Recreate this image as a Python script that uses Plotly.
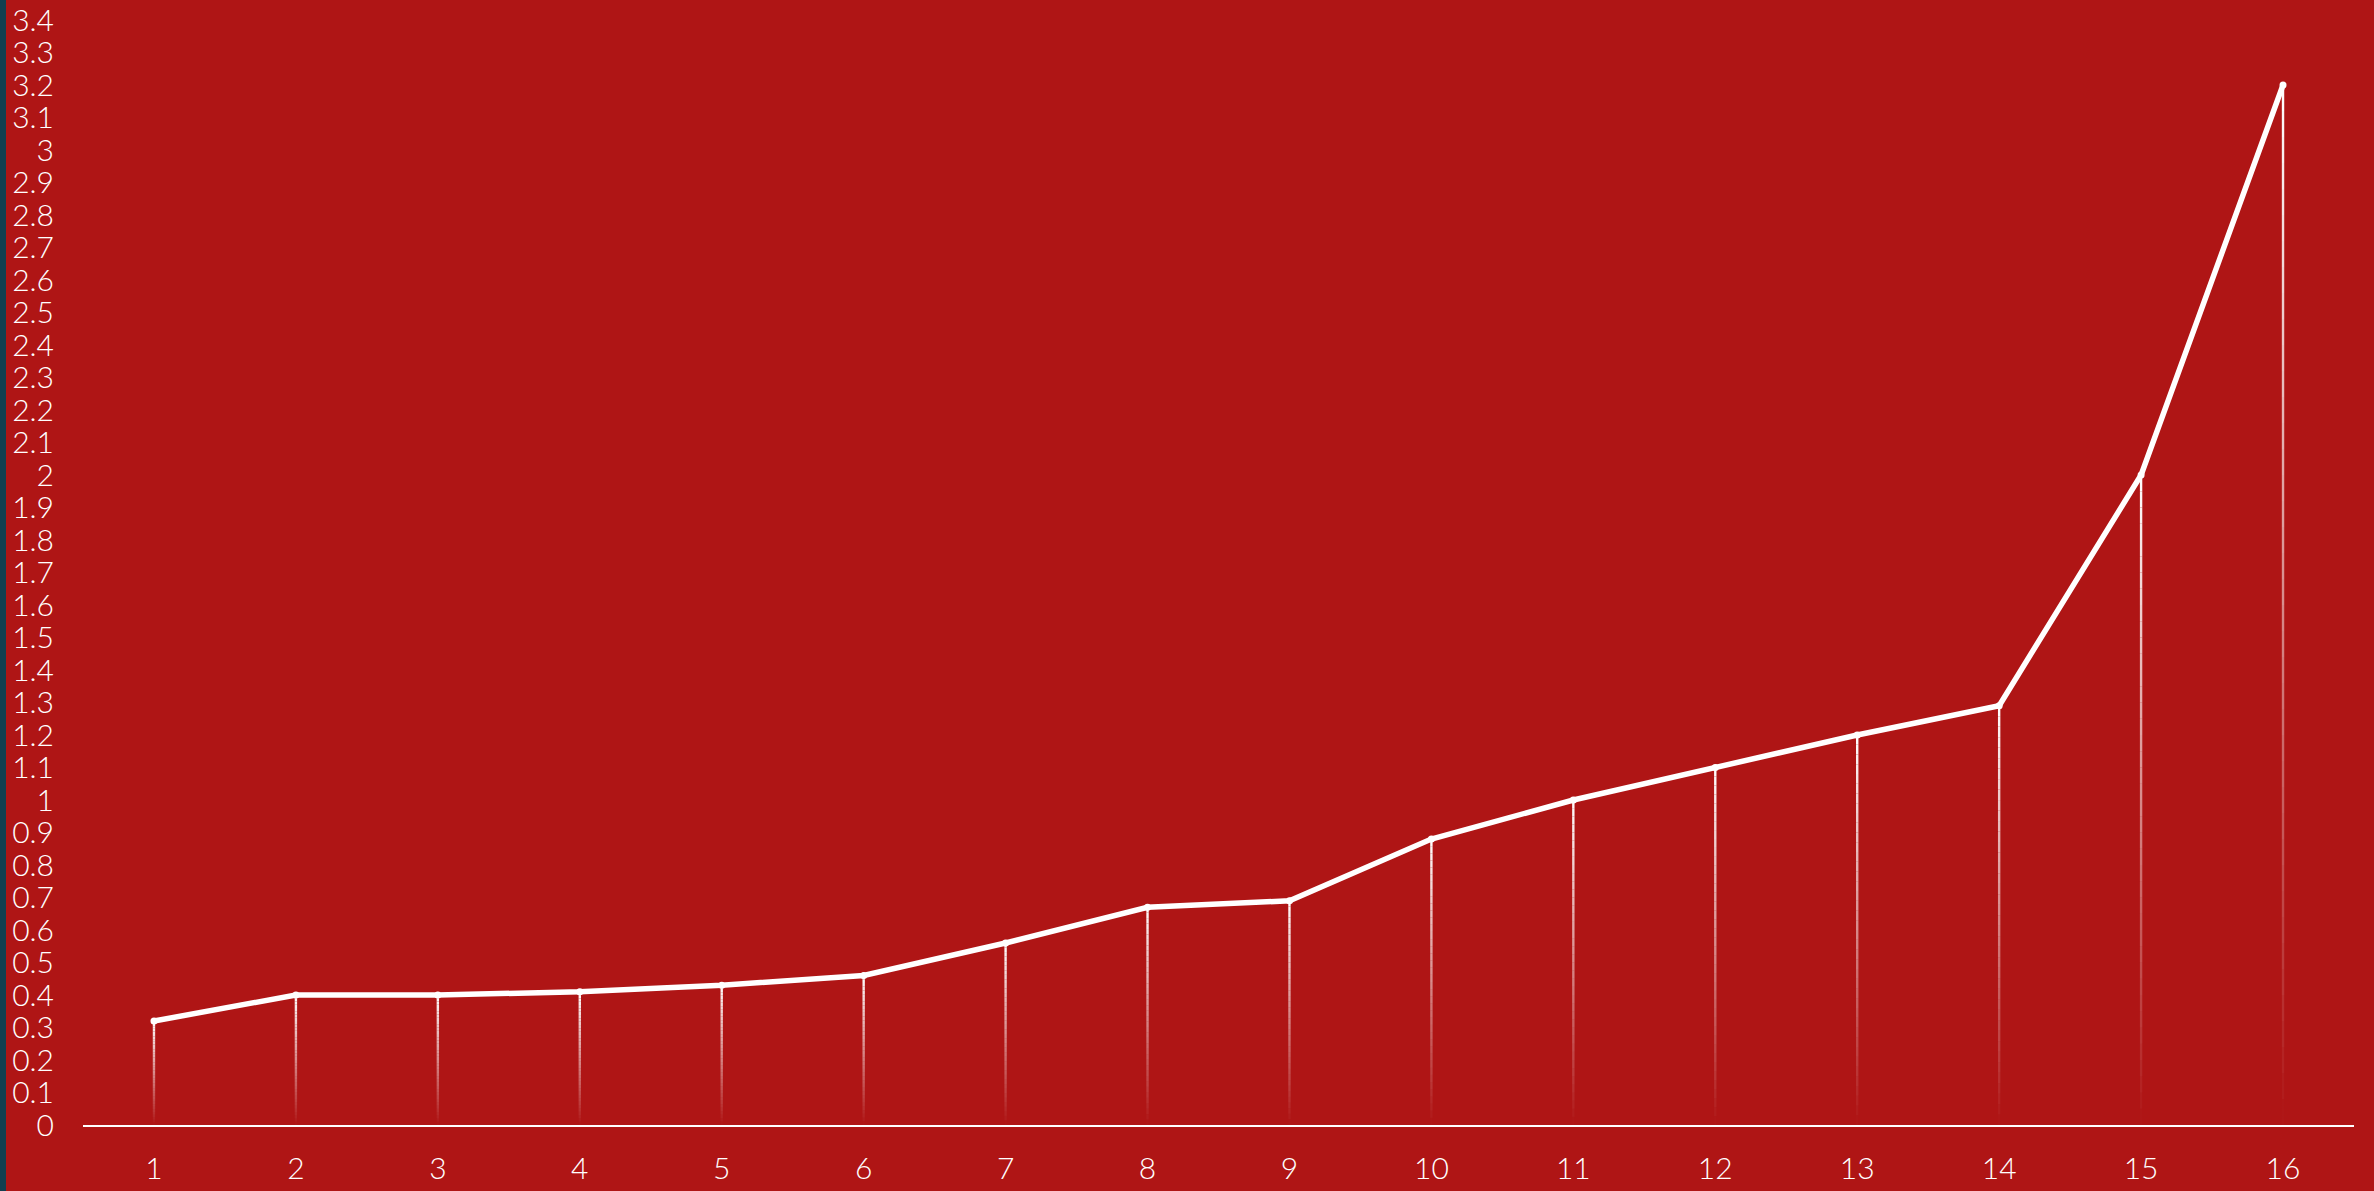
import plotly.graph_objects as go

categories = [str(i) for i in range(1, 17)]
x_pos = list(range(1, 17))
values = [0.32, 0.40, 0.40, 0.41, 0.43, 0.46, 0.56, 0.67, 0.69, 0.88, 1.00, 1.10, 1.20, 1.29, 2.00, 3.20]
y_ticks = [round(i * 0.1, 1) for i in range(0, 35)]
y_ticktext = [("%g" % v) for v in y_ticks]

BG = "#AF1515"
TEAL = "#133F50"
W, H = 2374, 1191
ML, MR, MT, MB = 83, 20, 20, 66

fig = go.Figure()

# gradient drop lines (white at top -> transparent at bottom)
N = 40
for k in range(N):
    xs, ys = [], []
    for xv, v in zip(x_pos, values):
        xs += [xv, xv, None]
        ys += [v * k / N, v * (k + 1) / N, None]
    a = (k + 0.5) / N
    fig.add_trace(go.Scatter(
        x=xs, y=ys, mode="lines",
        line=dict(color="rgba(255,255,255,%.3f)" % a, width=2.4),
        hoverinfo="skip", showlegend=False,
    ))

# main line
fig.add_trace(go.Scatter(
    x=x_pos, y=values, mode="lines+markers",
    line=dict(color="white", width=5.5),
    marker=dict(color="white", size=7),
    showlegend=False,
))

# left teal strip
fig.add_shape(type="rect", xref="paper", yref="paper",
              x0=-ML / (W - ML - MR), x1=-(ML - 6) / (W - ML - MR),
              y0=-MB / (H - MT - MB), y1=1 + MT / (H - MT - MB),
              fillcolor=TEAL, line=dict(width=0), layer="below")

font = dict(family="Lato", size=30, color="white", weight=300)

fig.update_layout(
    width=W, height=H,
    paper_bgcolor=BG, plot_bgcolor=BG,
    margin=dict(l=ML, r=MR, t=MT, b=MB, autoexpand=False),
    font=font,
    xaxis=dict(
        range=[0.5, 16.5], tickvals=x_pos, ticktext=categories,
        showgrid=False, zeroline=False, showline=True, linecolor="white",
        linewidth=2, ticks="", tickfont=font, ticklabelstandoff=16,
        automargin=False,
    ),
    yaxis=dict(
        range=[0, 3.4], tickvals=y_ticks, ticktext=y_ticktext,
        showgrid=False, zeroline=False, showline=False, ticks="",
        tickfont=font, ticklabelstandoff=28, automargin=False,
    ),
)

fig.write_html("out.html", config={"displayModeBar": False})

with open("out.html", "r", encoding="utf-8") as f:
    html = f.read()
html = html.replace("<head>", "<head><style>html,body{margin:0;padding:0;overflow:hidden;}</style>", 1)
with open("out.html", "w", encoding="utf-8") as f:
    f.write(html)
